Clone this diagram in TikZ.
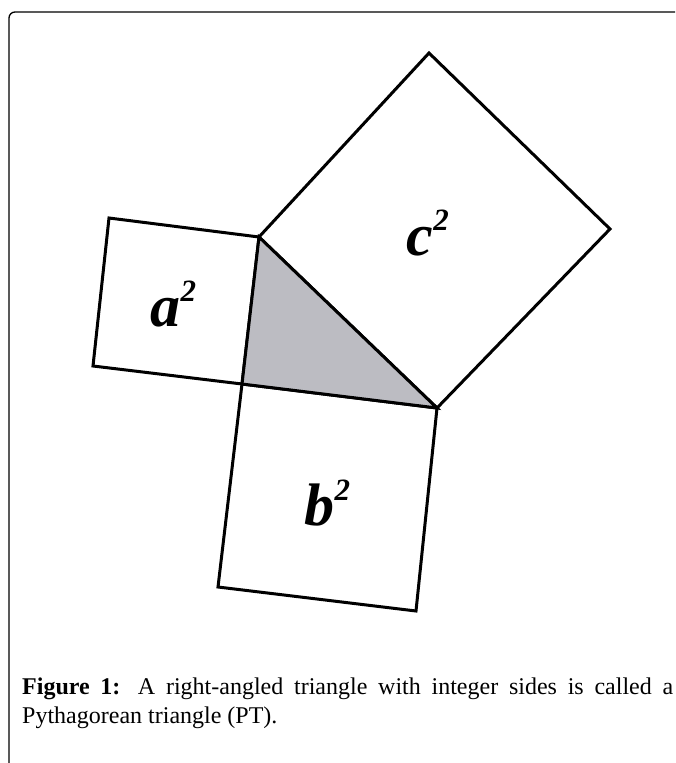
\documentclass[tikz,border=0pt]{standalone}
\usepackage{fontspec}
\setmainfont{Liberation Serif}
\tikzset{
  sq/.style={draw=black, line width=3pt, line join=miter, fill=white},
  tri/.style={draw=black, line width=3pt, line join=miter, fill={rgb,255:red,188;green,188;blue,194}},
  frameline/.style={draw=black, line width=1.3pt, rounded corners=6pt},
  lbl/.style={anchor=base west, inner sep=0pt, font=\fontsize{60}{60}\selectfont\bfseries\itshape},
  captxt/.style={anchor=base west, inner sep=0pt, font=\fontsize{24}{30}\selectfont}
}
\newcommand{\sqlabel}[1]{#1\kern0.5pt\raisebox{25pt}{\fontsize{31}{31}\selectfont\bfseries\itshape 2}}
\begin{document}
\begin{tikzpicture}[x=1pt,y=-1pt]
\useasboundingbox (0,0) rectangle (675,763);
\fill[white] (0,0) rectangle (675,763);
% frame
\draw[frameline] (9,763) -- (9,12) -- (675,12);
% vertices
\coordinate (A) at (259,237);
\coordinate (B) at (242,384);
\coordinate (C) at (437,408);
\coordinate (aTL) at (109,218);
\coordinate (aBL) at (93,366);
\coordinate (cT) at (429,53);
\coordinate (cR) at (610,229);
\coordinate (bBR) at (416,611);
\coordinate (bBL) at (218,587);
% squares
\draw[sq] (aTL) -- (A) -- (B) -- (aBL) -- cycle;
\draw[sq] (A) -- (cT) -- (cR) -- (C) -- cycle;
\draw[sq] (B) -- (C) -- (bBR) -- (bBL) -- cycle;
% triangle
\draw[tri] (A) -- (B) -- (C) -- cycle;
% labels
\node[lbl] (la) at (150,326) {\sqlabel{a}};
\node[lbl] (lc) at (406,255) {\sqlabel{c}};
\node[lbl] (lb) at (304,525) {\sqlabel{b}};
% caption
\node[captxt] (cap1) at (22,694) {\makebox[651pt][s]{\textbf{Figure 1:} A right-angled triangle with integer sides is called a}};
\node[captxt] (cap2) at (22,723) {Pythagorean triangle (PT).};
\end{tikzpicture}
\end{document}
